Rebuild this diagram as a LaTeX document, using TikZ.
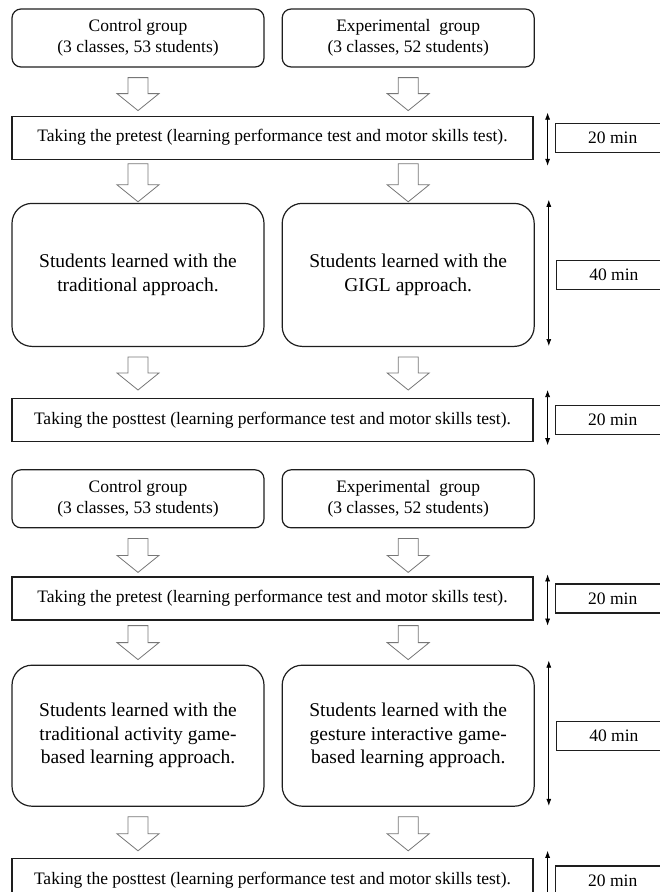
\documentclass[tikz,border=0pt]{standalone}
\usepackage{fontspec}
\setmainfont{Liberation Serif}
\usetikzlibrary{arrows.meta,positioning,calc}
\definecolor{boxline}{HTML}{1E1E1E}
\definecolor{arrowline}{HTML}{777777}
\tikzset{
  groupbox/.style={draw=boxline,line width=1.2pt,rounded corners=9pt,minimum width=252pt,minimum height=58pt,align=center,inner sep=0pt,font=\fontsize{17.5}{21}\selectfont},
  stagebox/.style={draw=boxline,line width=1.2pt,minimum width=521pt,minimum height=43pt,align=center,inner sep=0pt,font=\fontsize{17.5}{21}\selectfont},
  learnbox/.style={draw=boxline,line width=1.2pt,rounded corners=20pt,minimum width=252pt,align=center,inner sep=0pt,font=\fontsize{19.5}{23.5}\selectfont},
  timebox/.style={draw=boxline,line width=1.2pt,minimum width=115pt,minimum height=29pt,inner sep=0pt,font=\fontsize{17.5}{21}\selectfont},
  fatarrow/.style={draw=arrowline,line width=0.8pt,fill=white,
    to path={let \p1=(\tikztostart),\p2=(\tikztotarget) in
      (\x1-10pt,\y1) -- (\x1+10pt,\y1) -- (\x1+10pt,\y2+17pt) -- (\x1+21pt,\y2+17pt)
      -- (\x1,\y2) -- (\x1-21pt,\y2+17pt) -- (\x1-10pt,\y2+17pt) -- cycle}},
  timespan/.style={{Latex[length=7pt,width=5pt]}-{Latex[length=7pt,width=5pt]},line width=0.7pt}
}
\begin{document}
\begin{tikzpicture}[x=1pt,y=-1pt]
  \useasboundingbox (0,0) rectangle (660,892);
  \clip (0,0) rectangle (660,892);

  % first study
  \node[groupbox] (ctrlA) at (138,38) {Control group\\(3 classes, 53 students)};
  \node[groupbox,right=17pt of ctrlA] (expA) {Experimental\ \ group\\(3 classes, 52 students)};
  \node[stagebox,below=48pt of ctrlA.south west,anchor=north west] (preA) {Taking the pretest (learning performance test and motor skills test).};
  \node[learnbox,minimum height=143pt,below=43pt of preA.south west,anchor=north west] (learnCA) {Students learned with the\\traditional approach.};
  \node[learnbox,minimum height=143pt,right=17pt of learnCA] (learnEA) {Students learned with the\\GIGL approach.};
  \node[stagebox,below=51pt of learnCA.south west,anchor=north west] (postA) {Taking the posttest (learning performance test and motor skills test).};

  % second study
  \node[groupbox,below=27pt of postA.south west,anchor=north west] (ctrlB) {Control group\\(3 classes, 53 students)};
  \node[groupbox,right=17pt of ctrlB] (expB) {Experimental\ \ group\\(3 classes, 52 students)};
  \node[stagebox,below=48pt of ctrlB.south west,anchor=north west] (preB) {Taking the pretest (learning performance test and motor skills test).};
  \node[learnbox,minimum height=141pt,below=44pt of preB.south west,anchor=north west] (learnCB) {Students learned with the\\traditional activity game-\\based learning approach.};
  \node[learnbox,minimum height=141pt,right=17pt of learnCB] (learnEB) {Students learned with the\\gesture interactive game-\\based learning approach.};
  \node[stagebox,minimum height=44pt,below=51pt of learnCB.south west,anchor=north west] (postB) {Taking the posttest (learning performance test and motor skills test).};

  % durations
  \node[timebox,right=21pt of preA] (tPreA) {20 min};
  \node[timebox,right=21pt of learnEA] (tLearnA) {40 min};
  \node[timebox,right=21pt of postA] (tPostA) {20 min};
  \node[timebox,right=21pt of preB] (tPreB) {20 min};
  \node[timebox,right=21pt of learnEB] (tLearnB) {40 min};
  \node[timebox,right=21pt of postB] (tPostB) {20 min};

  \draw[timespan] ($(preA.north east)+(14,-3)$) -- ($(preA.south east)+(14,6)$);
  \draw[timespan] ($(learnEA.north east)+(14,-3)$) -- ($(learnEA.south east)+(14,-1)$);
  \draw[timespan] ($(postA.north east)+(14,-8)$) -- ($(postA.south east)+(14,3)$);
  \draw[timespan] ($(preB.north east)+(14,-2)$) -- ($(preB.south east)+(14,5)$);
  \draw[timespan] ($(learnEB.north east)+(14,-4)$) -- ($(learnEB.south east)+(14,-1)$);
  \draw[timespan] ($(postB.north east)+(14,-7)$) -- ($(postB.south east)+(14,3)$);

  % block arrows
  \draw[fatarrow] ($(ctrlA.south)+(0,10)$) to ($(preA.north -| ctrlA)+(0,-5)$);
  \draw[fatarrow] ($(expA.south)+(0,10)$) to ($(preA.north -| expA)+(0,-5)$);
  \draw[fatarrow] ($(preA.south -| learnCA)+(0,4)$) to ($(learnCA.north)+(0,-1)$);
  \draw[fatarrow] ($(preA.south -| learnEA)+(0,4)$) to ($(learnEA.north)+(0,-1)$);
  \draw[fatarrow] ($(learnCA.south)+(0,10)$) to ($(postA.north -| learnCA)+(0,-8)$);
  \draw[fatarrow] ($(learnEA.south)+(0,10)$) to ($(postA.north -| learnEA)+(0,-8)$);
  \draw[fatarrow] ($(ctrlB.south)+(0,10)$) to ($(preB.north -| ctrlB)+(0,-4)$);
  \draw[fatarrow] ($(expB.south)+(0,10)$) to ($(preB.north -| expB)+(0,-4)$);
  \draw[fatarrow] ($(preB.south -| learnCB)+(0,5)$) to ($(learnCB.north)+(0,-5)$);
  \draw[fatarrow] ($(preB.south -| learnEB)+(0,5)$) to ($(learnEB.north)+(0,-5)$);
  \draw[fatarrow] ($(learnCB.south)+(0,10)$) to ($(postB.north -| learnCB)+(0,-7)$);
  \draw[fatarrow] ($(learnEB.south)+(0,10)$) to ($(postB.north -| learnEB)+(0,-7)$);
\end{tikzpicture}
\end{document}
